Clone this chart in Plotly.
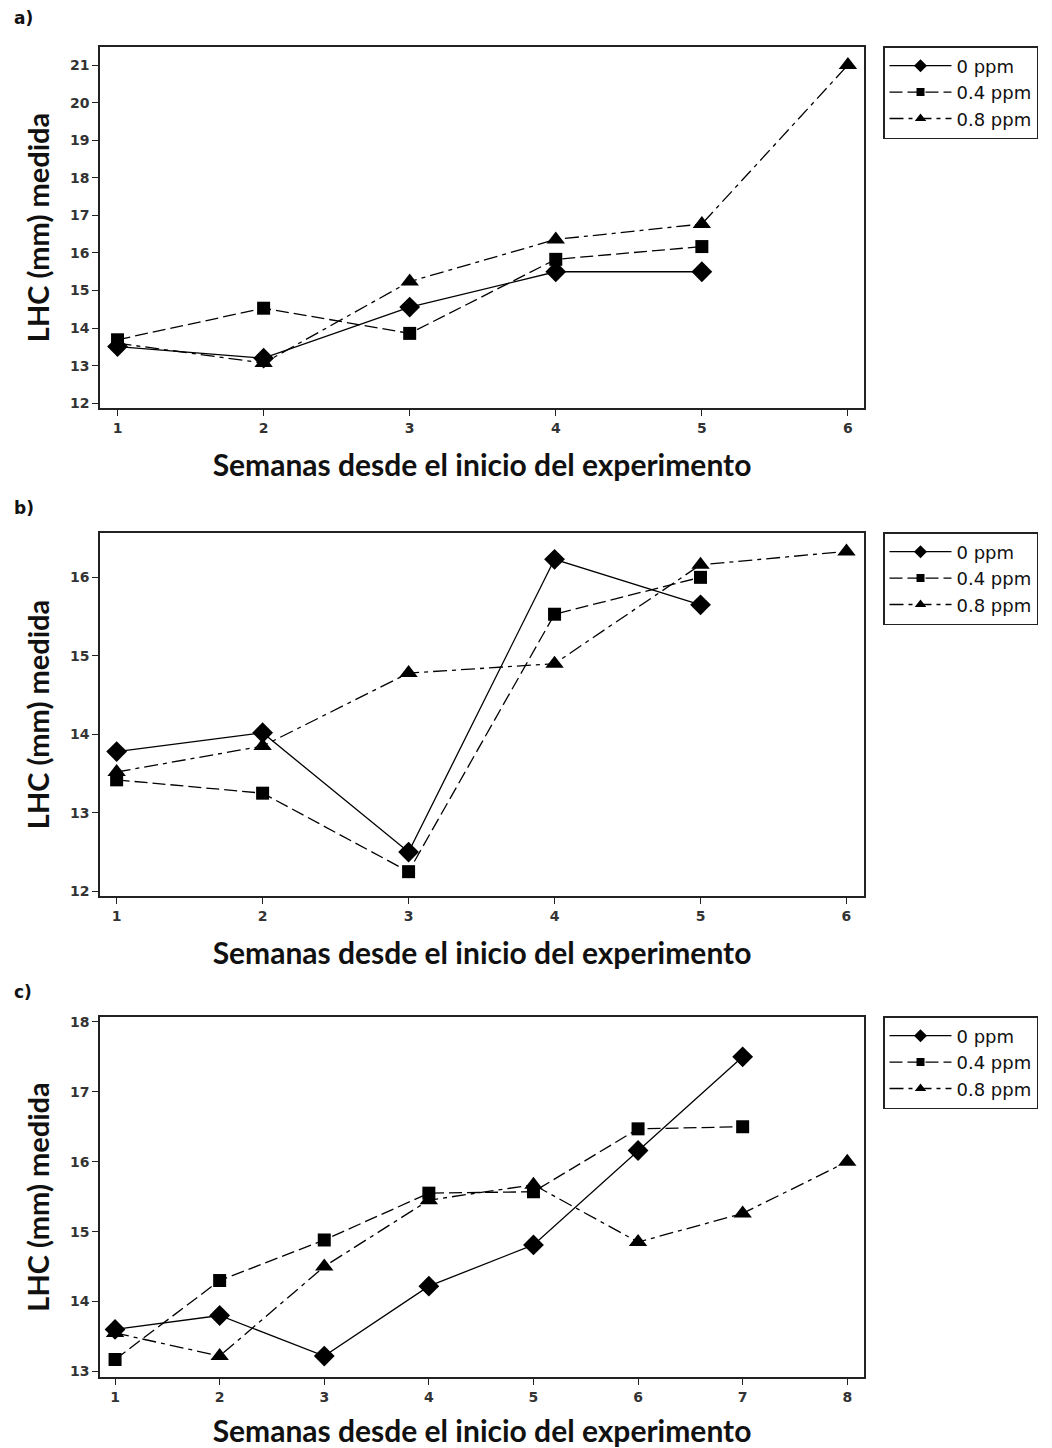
import plotly.graph_objects as go

# ---------------- data ----------------
series_names = ["0 ppm", "0.4 ppm", "0.8 ppm"]

# panel a
a_weeks_0 = [1, 2, 3, 4, 5]
a_vals_0 = [13.51, 13.20, 14.56, 15.50, 15.50]
a_weeks_04 = [1, 2, 3, 4, 5]
a_vals_04 = [13.69, 14.53, 13.86, 15.83, 16.17]
a_weeks_08 = [1, 2, 3, 4, 5, 6]
a_vals_08 = [13.60, 13.07, 15.24, 16.36, 16.77, 21.00]

# panel b
b_weeks_0 = [1, 2, 3, 4, 5]
b_vals_0 = [13.78, 14.02, 12.50, 16.23, 15.65]
b_weeks_04 = [1, 2, 3, 4, 5]
b_vals_04 = [13.42, 13.25, 12.25, 15.53, 16.00]
b_weeks_08 = [1, 2, 3, 4, 5, 6]
b_vals_08 = [13.52, 13.85, 14.78, 14.90, 16.16, 16.33]

# panel c
c_weeks_0 = [1, 2, 3, 4, 5, 6, 7]
c_vals_0 = [13.60, 13.80, 13.22, 14.22, 14.81, 16.16, 17.50]
c_weeks_04 = [1, 2, 3, 4, 5, 6, 7]
c_vals_04 = [13.17, 14.30, 14.88, 15.55, 15.57, 16.47, 16.50]
c_weeks_08 = [1, 2, 3, 4, 5, 6, 7, 8]
c_vals_08 = [13.55, 13.22, 14.50, 15.45, 15.67, 14.85, 15.26, 16.00]

panel_labels = ["a)", "b)", "c)"]
x_title = "Semanas desde el inicio del experimento"
y_title = "LHC (mm) medida"

# ---------------- styles ----------------
styles = [
    dict(symbol="diamond", size=16, lsize=10, dash="solid"),
    dict(symbol="square", size=13, lsize=8, dash="13px,5px"),
    dict(symbol="triangle-up", size=16, lsize=10, dash="14px,5px,4px,5px"),
]

W, H = 1052, 1448
xdom = [100 / W, 864 / W]
panels = [
    dict(top=47, bot=408, xr=[0.88, 6.11], yr=[11.875, 21.48], yt=list(range(12, 22)), xt=list(range(1, 7)),
         data=[(a_weeks_0, a_vals_0), (a_weeks_04, a_vals_04), (a_weeks_08, a_vals_08)], lab_y=18),
    dict(top=533, bot=896, xr=[0.886, 6.12], yr=[11.94, 16.565], yt=list(range(12, 17)), xt=list(range(1, 7)),
         data=[(b_weeks_0, b_vals_0), (b_weeks_04, b_vals_04), (b_weeks_08, b_vals_08)], lab_y=508),
    dict(top=1017, bot=1377, xr=[0.856, 8.16], yr=[12.92, 18.07], yt=list(range(13, 19)), xt=list(range(1, 9)),
         data=[(c_weeks_0, c_vals_0), (c_weeks_04, c_vals_04), (c_weeks_08, c_vals_08)], lab_y=992),
]

fig = go.Figure()
layout = dict(
    width=W, height=H, margin=dict(l=0, r=0, t=0, b=0),
    paper_bgcolor="white", plot_bgcolor="white",
    showlegend=True, annotations=[],
)

tick_font = dict(family="DejaVu Sans", size=14, color="#333333", weight="bold")
title_font = dict(family="Lato", size=30, color="#111111", weight="bold")

for i, p in enumerate(panels):
    sfx = "" if i == 0 else str(i + 1)
    xa = "x" + sfx
    ya = "y" + sfx
    leg = "legend" + sfx
    for j, (xs, ys) in enumerate(p["data"]):
        st = styles[j]
        fig.add_trace(go.Scatter(
            x=xs, y=ys, mode="lines+markers", name=series_names[j],
            xaxis=xa, yaxis=ya, showlegend=False,
            line=dict(color="black", width=1.3, dash=st["dash"]),
            marker=dict(symbol=st["symbol"], size=st["size"], color="black"),
        ))
    # legend entries (smaller symbols, as in the reference legend)
    for j in range(3):
        st = styles[j]
        fig.add_trace(go.Scatter(
            x=[None], y=[None], mode="lines+markers", name=series_names[j],
            xaxis=xa, yaxis=ya, legend=leg, showlegend=True,
            line=dict(color="black", width=1.3, dash=st["dash"]),
            marker=dict(symbol=st["symbol"], size=st["lsize"], color="black"),
        ))
    ydom = [1 - p["bot"] / H, 1 - p["top"] / H]
    layout["xaxis" + sfx] = dict(
        domain=xdom, anchor=ya, range=p["xr"], tickvals=p["xt"],
        ticks="outside", ticklen=6, tickwidth=1.2, tickcolor="#222",
        showline=True, linecolor="#222", linewidth=1.5, mirror=True,
        showgrid=False, zeroline=False, tickfont=tick_font, automargin=False,
        title=dict(text=x_title, font=title_font, standoff=20),
    )
    layout["yaxis" + sfx] = dict(
        domain=ydom, anchor=xa, range=p["yr"], tickvals=p["yt"],
        ticks="outside", ticklen=6, tickwidth=1.2, tickcolor="#222",
        showline=True, linecolor="#222", linewidth=1.5, mirror=True,
        showgrid=False, zeroline=False, tickfont=tick_font, automargin=False,
        title=dict(text=y_title, font=dict(family="Lato", size=29, color="#111111", weight="bold"), standoff=12),
    )
    layout[leg] = dict(
        x=883 / W, y=1 - (p["top"] - 1) / H, xanchor="left", yanchor="top",
        bordercolor="#222", borderwidth=1.5, bgcolor="white",
        font=dict(family="DejaVu Sans", size=18, color="#111"),
        tracegroupgap=0, itemwidth=62,
    )
    layout["annotations"].append(dict(
        text=panel_labels[i], xref="paper", yref="paper",
        x=12 / W, y=1 - p["lab_y"] / H, xanchor="left", yanchor="middle",
        showarrow=False, font=dict(family="DejaVu Sans", size=17, color="#111", weight="bold"),
    ))

fig.update_layout(**layout)
fig.write_html("out.html")
